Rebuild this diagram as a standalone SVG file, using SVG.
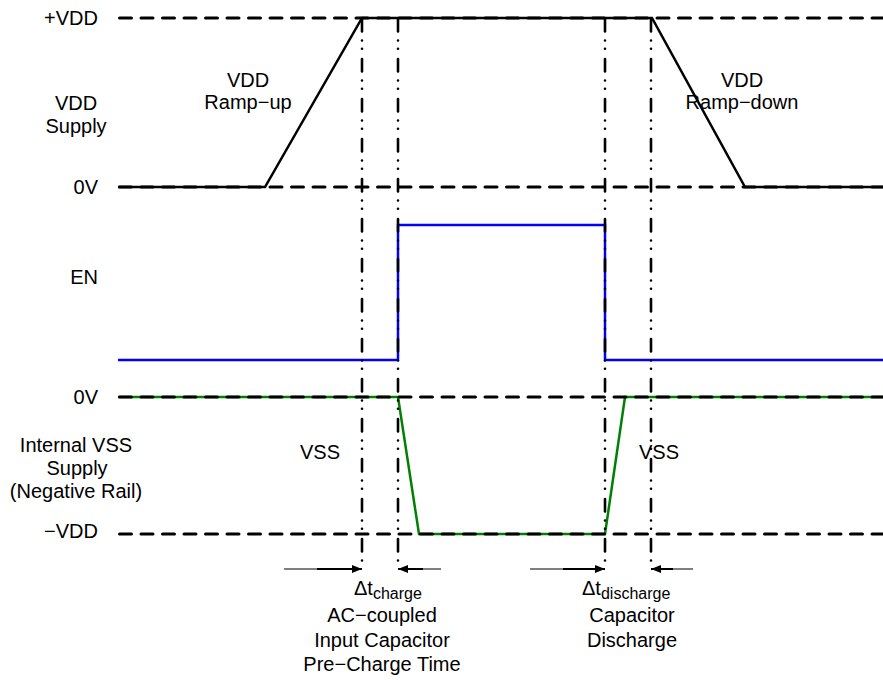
<svg xmlns="http://www.w3.org/2000/svg" width="883" height="680" viewBox="0 0 883 680">
<style>
text{font-family:"Liberation Sans",Arial,sans-serif;font-size:20px;fill:#000}
.r{text-anchor:end}
.m{text-anchor:middle}
.sub{font-size:16px}
.dash{stroke:#000;stroke-width:3.2;stroke-dasharray:11.8 9.7;stroke-linecap:round;fill:none}
.sig{stroke-width:2.5;fill:none}
.dd{stroke:#000;stroke-width:2.6;stroke-dasharray:12.5 9 0 8.3 0 10.2;stroke-linecap:round;fill:none}
.thin{stroke:#000;stroke-width:1;fill:none}
.ar{stroke:#000;stroke-width:2;fill:none;marker-end:url(#ah)}
</style>
<defs>
<marker id="ah" viewBox="0 0 10 8" refX="10" refY="4" markerWidth="11" markerHeight="8" markerUnits="userSpaceOnUse" orient="auto"><path d="M0,0 L10,4 L0,8 Z" fill="#000"/></marker>
</defs>
<g id="signals">
<polyline id="vdd-signal" class="sig" stroke="#000" points="118,187 265,187 362,18 652,18 745,187 883,187"/>
<polyline id="en-signal" class="sig" stroke="#0000ff" points="118,360 398,360 398,225 605,225 605,360 883,360"/>
<polyline id="vss-signal" class="sig" stroke="#008000" points="118,397 398,397 419,534 605,534 625,397 883,397"/>
</g>
<g id="rails">
<line class="dash" x1="119.6" y1="18" x2="883" y2="18"/>
<line class="dash" x1="119.6" y1="187" x2="883" y2="187"/>
<line class="dash" x1="119.6" y1="397" x2="883" y2="397"/>
<line class="dash" x1="119.6" y1="534" x2="883" y2="534"/>
</g>
<g id="connectors">
<line class="dd" x1="362" y1="19" x2="362" y2="562"/>
<line class="dd" x1="398" y1="19" x2="398" y2="562"/>
<line class="dd" x1="605" y1="19" x2="605" y2="562"/>
<line class="dd" x1="651" y1="19" x2="651" y2="562"/>
<line class="thin" x1="284" y1="569" x2="320" y2="569"/>
<line class="ar" x1="317" y1="569" x2="362" y2="569"/>
<line class="thin" x1="420" y1="569" x2="441" y2="569"/>
<line class="ar" x1="423" y1="569" x2="398" y2="569"/>
<line class="thin" x1="530" y1="569" x2="566" y2="569"/>
<line class="ar" x1="563" y1="569" x2="605" y2="569"/>
<line class="thin" x1="670" y1="569" x2="693" y2="569"/>
<line class="ar" x1="673" y1="569" x2="651" y2="569"/>
</g>
<g id="labels">
<text class="r" x="98" y="25">+VDD</text>
<text class="r" x="98" y="194">0V</text>
<text class="r" x="98" y="404">0V</text>
<text class="r" x="98" y="538">−VDD</text>
<text class="r" x="98" y="284">EN</text>
<text class="m" x="76" y="110">VDD</text>
<text class="m" x="76" y="133">Supply</text>
<text class="m" x="76" y="452">Internal VSS</text>
<text class="m" x="77" y="475">Supply</text>
<text class="m" x="76" y="498">(Negative Rail)</text>
<text class="m" x="248" y="87">VDD</text>
<text class="m" x="248" y="109">Ramp−up</text>
<text class="m" x="742" y="87">VDD</text>
<text class="m" x="742" y="109">Ramp−down</text>
<text class="m" x="320" y="459">VSS</text>
<text class="m" x="659" y="459">VSS</text>
<text x="354" y="595">Δt<tspan class="sub" dy="4">charge</tspan></text>
<text x="582" y="595">Δt<tspan class="sub" dy="4">discharge</tspan></text>
<text class="m" x="382" y="622">AC−coupled</text>
<text class="m" x="382" y="647">Input Capacitor</text>
<text class="m" x="382" y="671">Pre−Charge Time</text>
<text class="m" x="632" y="622">Capacitor</text>
<text class="m" x="632" y="647">Discharge</text>
</g>
</svg>
